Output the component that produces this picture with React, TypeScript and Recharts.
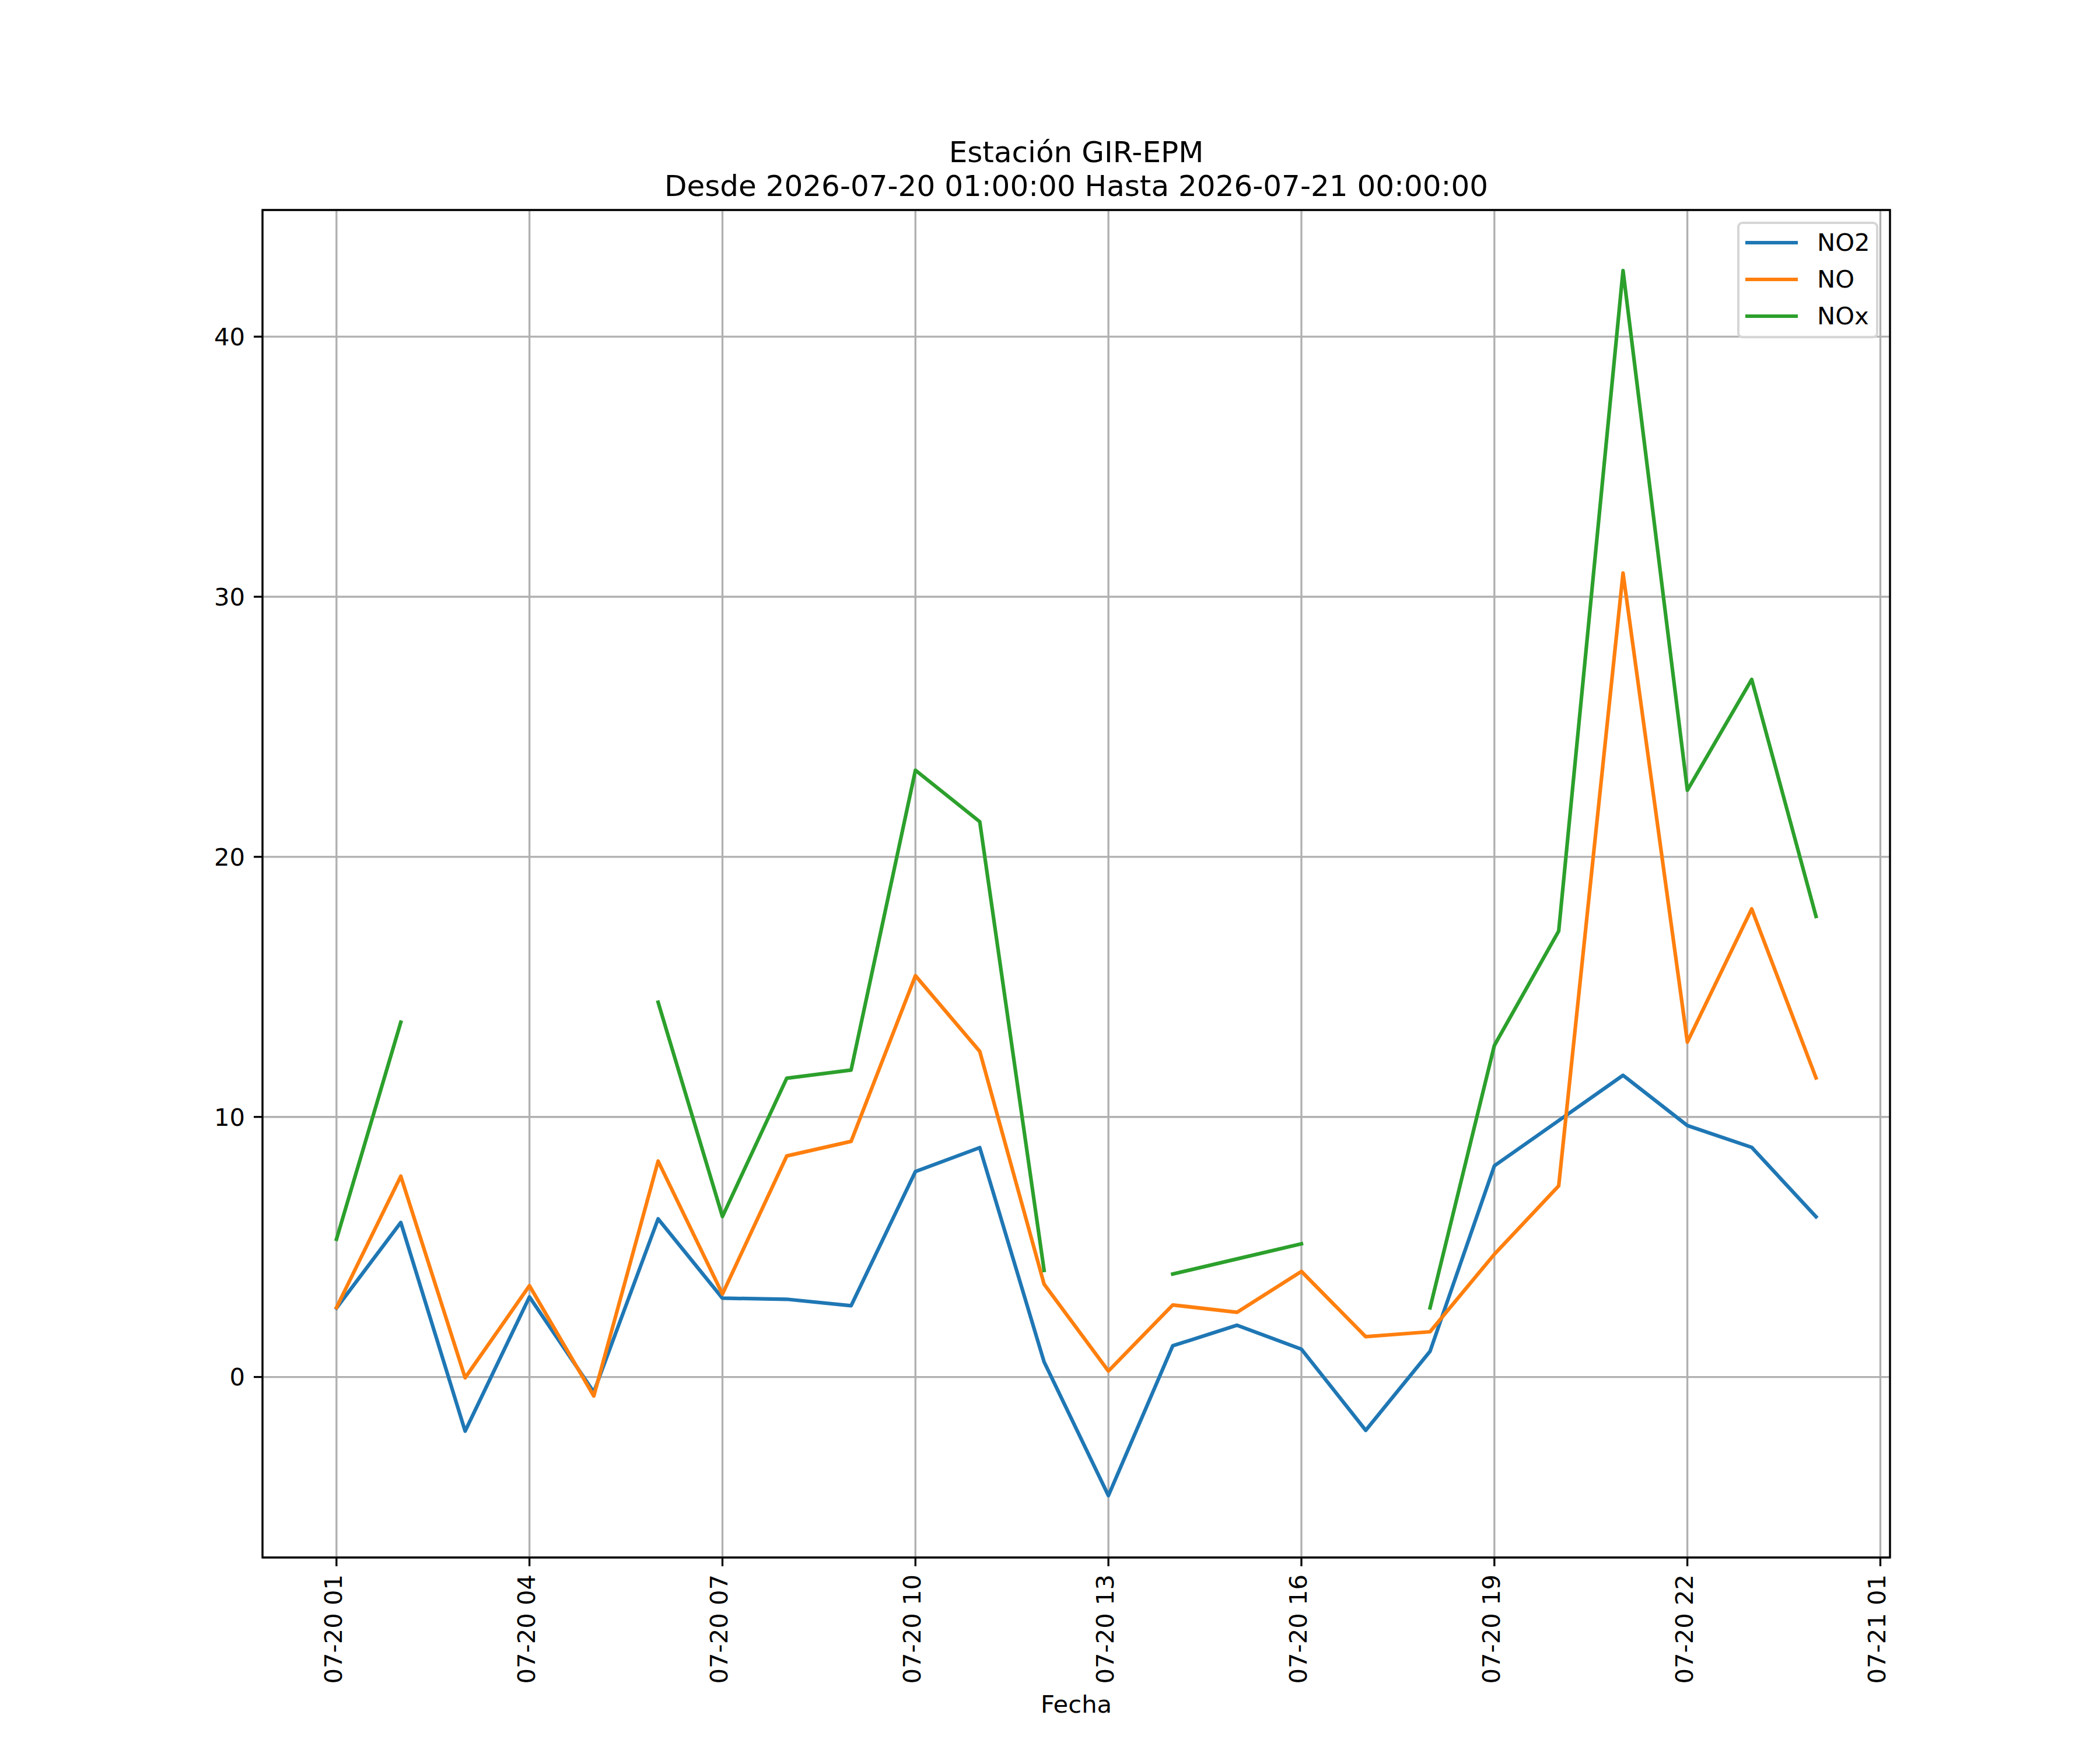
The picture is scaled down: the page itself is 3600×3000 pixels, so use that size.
import React from "react";
import {
  LineChart,
  Line,
  XAxis,
  YAxis,
  CartesianGrid,
  ReferenceArea,
} from "recharts";

// hour index from 2026-07-20 01:00 (0) to 2026-07-21 00:00 (23)
const HOURS = [0, 1, 2, 3, 4, 5, 6, 7, 8, 9, 10, 11, 12, 13, 14, 15, 16, 17, 18, 19, 20, 21, 22, 23];

const NO2 = [
  2.65, 5.94, -2.08, 3.08, -0.58, 6.08, 3.03, 2.99, 2.74, 7.9, 8.82, 0.58,
  -4.56, 1.2, 1.99, 1.07, -2.05, 0.99, 8.12, 9.86, 11.6, 9.67, 8.83, 6.16,
];
const NO = [
  2.67, 7.72, -0.03, 3.51, -0.73, 8.3, 3.19, 8.5, 9.06, 15.43, 12.52, 3.57,
  0.23, 2.77, 2.49, 4.06, 1.55, 1.74, 4.72, 7.35, 30.91, 12.88, 18.0, 11.5,
];
const NOX = [
  5.3, 13.64, null, null, null, 14.41, 6.17, 11.49, 11.8, 23.33, 21.35, 4.1,
  null, 3.96, 4.54, 5.12, null, 2.66, 12.75, 17.15, 42.54, 22.56, 26.82, 17.71,
];

const TICK_HOURS = [0, 3, 6, 9, 12, 15, 18, 21, 24];
const TICK_LABELS = [
  "07-20 01",
  "07-20 04",
  "07-20 07",
  "07-20 10",
  "07-20 13",
  "07-20 16",
  "07-20 19",
  "07-20 22",
  "07-21 01",
];
const Y_TICKS = [0, 10, 20, 30, 40];

const SERIES = [
  { key: "NO2", color: "#1f77b4" },
  { key: "NO", color: "#ff7f0e" },
  { key: "NOx", color: "#2ca02c" },
];

const TITLE_1 = "Estación GIR-EPM";
const TITLE_2 = "Desde 2026-07-20 01:00:00 Hasta 2026-07-21 00:00:00";
const X_LABEL = "Fecha";

const FONT = "'DejaVu Sans', sans-serif";
const X_DOMAIN = [-1.15, 24.15];
const Y_DOMAIN = [-6.94, 44.87];

const data = HOURS.map((h, i) => ({ h, NO2: NO2[i], NO: NO[i], NOx: NOX[i] }));

function RotTick(props: any) {
  const { x, y, payload } = props;
  const idx = TICK_HOURS.indexOf(payload.value);
  return (
    <text
      x={x}
      y={y}
      dy={9}
      transform={`rotate(-90 ${x} ${y})`}
      textAnchor="end"
      fill="#000"
      fontSize={41.7}
      fontFamily={FONT}
    >
      {idx >= 0 ? TICK_LABELS[idx] : ""}
    </text>
  );
}

export default function App() {
  return (
    <div
      style={{
        position: "absolute",
        left: 0,
        top: 0,
        width: 3600,
        height: 3000,
        background: "#fff",
        fontFamily: FONT,
        color: "#000",
      }}
    >
      <LineChart
        width={3600}
        height={3000}
        data={data}
        margin={{ top: 360, right: 360, bottom: 30, left: 250 }}
        style={{ fontFamily: FONT }}
      >
        <CartesianGrid stroke="#b0b0b0" strokeWidth={3.33} />
        <XAxis
          dataKey="h"
          type="number"
          domain={X_DOMAIN}
          allowDataOverflow
          ticks={TICK_HOURS}
          interval={0}
          height={300}
          axisLine={false}
          tickLine={{ stroke: "#000", strokeWidth: 3.33 }}
          tickSize={15}
          tickMargin={14}
          tick={(p: any) => <RotTick {...p} />}
        />
        <YAxis
          type="number"
          domain={Y_DOMAIN}
          allowDataOverflow
          ticks={Y_TICKS}
          interval={0}
          width={200}
          axisLine={false}
          tickLine={{ stroke: "#000", strokeWidth: 3.33 }}
          tickSize={15}
          tickMargin={15}
          tick={{ fill: "#000", fontSize: 41.7, fontFamily: FONT }}
        />
        {SERIES.map((s) => (
          <Line
            key={s.key}
            dataKey={s.key}
            type="linear"
            stroke={s.color}
            strokeWidth={6.25}
            strokeLinejoin="round"
            strokeLinecap="square"
            dot={false}
            activeDot={false}
            connectNulls={false}
            isAnimationActive={false}
          />
        ))}
        <ReferenceArea
          x1={X_DOMAIN[0]}
          x2={X_DOMAIN[1]}
          y1={Y_DOMAIN[0]}
          y2={Y_DOMAIN[1]}
          fill="none"
          fillOpacity={0}
          stroke="#000"
          strokeWidth={3.33}
          ifOverflow="visible"
        />
      </LineChart>

      {/* title */}
      <div
        style={{
          position: "absolute",
          left: 450,
          width: 2790,
          top: 232,
          textAlign: "center",
          fontSize: 50,
          lineHeight: "58px",
          whiteSpace: "nowrap",
        }}
      >
        <div>{TITLE_1}</div>
        <div>{TITLE_2}</div>
      </div>

      {/* x label */}
      <div
        style={{
          position: "absolute",
          left: 450,
          width: 2790,
          top: 2898,
          textAlign: "center",
          fontSize: 41.7,
          lineHeight: "48.5px",
        }}
      >
        {X_LABEL}
      </div>

      {/* legend */}
      <div
        style={{
          position: "absolute",
          left: 2978,
          top: 380,
          width: 242,
          height: 200,
          boxSizing: "border-box",
          border: "4px solid #d6d6d6",
          borderRadius: 9,
          background: "rgba(255,255,255,0.8)",
        }}
      >
        {SERIES.map((s, i) => (
          <div
            key={s.key}
            style={{
              position: "absolute",
              left: 10,
              top: 32 + i * 63 - 24,
              height: 48,
              display: "flex",
              alignItems: "center",
            }}
          >
            <div style={{ width: 90, height: 6.25, background: s.color }} />
            <div
              style={{
                marginLeft: 33,
                fontSize: 41.7,
                lineHeight: "48.5px",
              }}
            >
              {s.key}
            </div>
          </div>
        ))}
      </div>
    </div>
  );
}
